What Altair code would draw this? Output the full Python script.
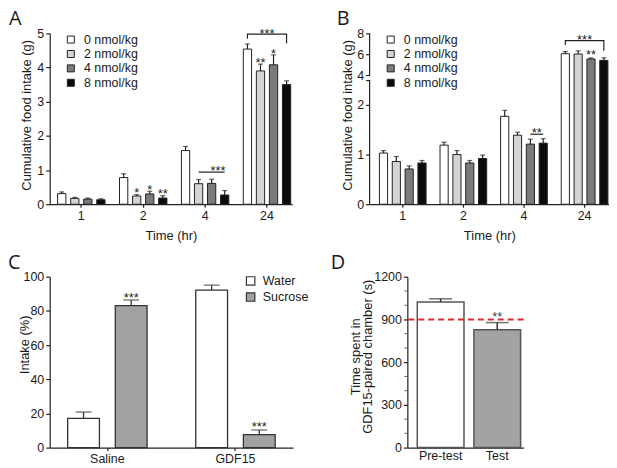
import altair as alt
import pandas as pd

FONT = "Liberation Sans"
INK = "#1a1a1a"

# ---------------- data ----------------
GROUPS = ["1", "2", "4", "24"]
DOSES = ["0 nmol/kg", "2 nmol/kg", "4 nmol/kg", "8 nmol/kg"]
DOSE_COLORS = ["#ffffff", "#d4d4d4", "#7b7b7b", "#0b0b0b"]

# Panel A (g)
A_MEAN_0 = [0.31, 0.78, 1.57, 4.54]
A_MEAN_2 = [0.17, 0.24, 0.60, 3.90]
A_MEAN_4 = [0.15, 0.30, 0.61, 4.08]
A_MEAN_8 = [0.13, 0.18, 0.27, 3.50]
A_ERR_0 = [0.05, 0.11, 0.12, 0.15]
A_ERR_2 = [0.03, 0.04, 0.12, 0.20]
A_ERR_4 = [0.03, 0.08, 0.12, 0.29]
A_ERR_8 = [0.03, 0.07, 0.13, 0.11]
A_SIG_GROUP = ["2", "2", "2", "24", "24"]
A_SIG_DOSE = ["2 nmol/kg", "4 nmol/kg", "8 nmol/kg", "2 nmol/kg", "4 nmol/kg"]
A_SIG_Y = [0.41, 0.50, 0.39, 4.22, 4.49]
A_SIG_TEXT = ["*", "*", "**", "**", "*"]
A_BR_ID = [1, 1, 2, 2, 2, 2]
A_BR_GROUP = ["4", "4", "24", "24", "24", "24"]
A_BR_DOSE = ["2 nmol/kg", "8 nmol/kg", "0 nmol/kg", "0 nmol/kg", "8 nmol/kg", "8 nmol/kg"]
A_BR_Y = [0.94, 0.94, 4.84, 4.98, 4.98, 4.71]
A_BRSTAR_GROUP = ["4", "24"]
A_BRSTAR_DOSE = ["4 nmol/kg", "2 nmol/kg"]
A_BRSTAR_Y = [1.07, 5.08]
A_BRSTAR_TEXT = ["***", "***"]
A_TICKS = [0, 1, 2, 3, 4, 5]

# Panel B (g)
B_MEAN_0 = [1.03, 1.19, 1.77, 6.05]
B_MEAN_2 = [0.86, 1.00, 1.39, 6.02]
B_MEAN_4 = [0.71, 0.83, 1.21, 5.54]
B_MEAN_8 = [0.83, 0.92, 1.23, 5.41]
B_ERR_0 = [0.05, 0.06, 0.12, 0.20]
B_ERR_2 = [0.10, 0.08, 0.06, 0.30]
B_ERR_4 = [0.06, 0.05, 0.10, 0.10]
B_ERR_8 = [0.05, 0.07, 0.09, 0.25]
B_SIG_GROUP = ["24"]
B_SIG_DOSE = ["4 nmol/kg"]
B_SIG_Y = [6.24]
B_SIG_TEXT = ["**"]
B_BR_ID = [1, 1, 2, 2, 2, 2]
B_BR_GROUP = ["4", "4", "24", "24", "24", "24"]
B_BR_DOSE = ["4 nmol/kg", "8 nmol/kg", "0 nmol/kg", "0 nmol/kg", "8 nmol/kg", "8 nmol/kg"]
B_BR_Y = [1.41, 1.41, 6.88, 7.30, 7.30, 6.34]
B_BRSTAR_GROUP = ["4", "24"]
B_BRSTAR_DOSE = ["4 nmol/kg", "2 nmol/kg"]
B_BRSTAR_Y = [1.50, 7.68]
B_BRSTAR_TEXT = ["**", "***"]
B_AXIS_LO = [0, 4]
B_AXIS_HI = [2.5, 8]
B_TICKS = [0, 1, 2, 2.5, 4, 6, 8]

# Panel C (%)
C_TREAT = ["Saline", "GDF15"]
C_DRINK = ["Water", "Sucrose"]
C_COLORS = ["#ffffff", "#a2a2a5"]
C_WATER = [17.1, 92.2]
C_WATER_ERR = [3.7, 2.9]
C_SUCROSE = [83.1, 7.6]
C_SUCROSE_ERR = [3.3, 2.7]
C_SIG_TREAT = ["Saline", "GDF15"]
C_SIG_Y = [89.3, 13.6]
C_SIG_TEXT = ["***", "***"]
C_TICKS = [0, 20, 40, 60, 80, 100]

# Panel D (s)
D_PHASE = ["Pre-test", "Test"]
D_COLORS = ["#ffffff", "#a3a3a6"]
D_MEAN = [1022, 827]
D_ERR = [23, 51]
D_SIG_PHASE = ["Test"]
D_SIG_Y = [935]
D_SIG_TEXT = ["**"]
D_CHANCE = [900]
D_MAJOR = [0, 300, 600, 900, 1200]
D_MINOR = [100, 200, 400, 500, 700, 800, 1000, 1100]


# ---------------- helpers ----------------
def long_table(means, errs):
    rows = []
    for dose, m_list, e_list in zip(DOSES, means, errs):
        for g, m, e in zip(GROUPS, m_list, e_list):
            rows.append({"group": g, "dose": dose, "mean": m, "top": m + e})
    return pd.DataFrame(rows)


def letter(text, dx):
    return alt.TitleParams(text=text, anchor="start", frame="group", dx=dx,
                           fontSize=20, font="Open Sans", fontWeight="normal",
                           color=INK, offset=-2)


def dose_panel(df, sig, br, brstar, yscale, yaxis, xscale, legend_x, extra=None):
    x = alt.X("group:N", sort=GROUPS, scale=xscale,
              axis=alt.Axis(title="Time (hr)", labelAngle=0, tickSize=3,
                            titlePadding=8))
    xo = alt.XOffset("dose:N", sort=DOSES,
                     scale=alt.Scale(domain=DOSES, paddingInner=0.365, paddingOuter=0))
    bars = alt.Chart(df).mark_bar(stroke="#222", strokeWidth=1).encode(
        x=x, xOffset=xo,
        y=alt.Y("mean:Q", scale=yscale, axis=yaxis),
        color=alt.Color("dose:N", sort=DOSES,
                        scale=alt.Scale(domain=DOSES, range=DOSE_COLORS),
                        legend=alt.Legend(title=None, orient="none", legendX=legend_x,
                                          legendY=0, symbolType="square",
                                          symbolSize=50, symbolStrokeColor="#222",
                                          symbolStrokeWidth=1, labelFontSize=12.5,
                                          labelFont=FONT, labelColor=INK,
                                          rowPadding=1.5, labelOffset=7)),
    )
    err = alt.Chart(df).mark_rule(color="#222", strokeWidth=1.2).encode(
        x=x, xOffset=xo, y=alt.Y("mean:Q", scale=yscale), y2="top:Q")
    cap = alt.Chart(df).mark_tick(color="#222", thickness=1.2, size=5,
                                  orient="horizontal").encode(
        x=x, xOffset=xo, y=alt.Y("top:Q", scale=yscale))
    stars = alt.Chart(sig).mark_text(fontSize=13, font=FONT, color=INK,
                                     baseline="middle", dy=3).encode(
        x=x, xOffset=xo, y=alt.Y("y:Q", scale=yscale), text="text:N")
    brackets = alt.Chart(br).mark_line(color="#222", strokeWidth=1.2).encode(
        x=x, xOffset=xo, y=alt.Y("y:Q", scale=yscale), detail="id:N", order="idx:Q")
    brstars = alt.Chart(brstar).mark_text(fontSize=13, font=FONT, color=INK,
                                          baseline="middle", dy=3, dx=6.5).encode(
        x=x, xOffset=xo, y=alt.Y("y:Q", scale=yscale), text="text:N")
    layers = [bars, err, cap, stars, brackets, brstars]
    if extra is not None:
        layers.append(extra)
    return alt.layer(*layers)


# ---------------- panel A ----------------
dfA = long_table([A_MEAN_0, A_MEAN_2, A_MEAN_4, A_MEAN_8],
                 [A_ERR_0, A_ERR_2, A_ERR_4, A_ERR_8])
sigA = pd.DataFrame({"group": A_SIG_GROUP, "dose": A_SIG_DOSE, "y": A_SIG_Y, "text": A_SIG_TEXT})
brA = pd.DataFrame({"id": A_BR_ID, "group": A_BR_GROUP, "dose": A_BR_DOSE, "y": A_BR_Y,
                    "idx": list(range(len(A_BR_Y)))})
bsA = pd.DataFrame({"group": A_BRSTAR_GROUP, "dose": A_BRSTAR_DOSE, "y": A_BRSTAR_Y,
                    "text": A_BRSTAR_TEXT})
yscaleA = alt.Scale(domain=[0, 5], nice=False, zero=True)
yaxisA = alt.Axis(title="Cumulative food intake (g)", values=A_TICKS, tickCount=20,
                  format="d", titlePadding=3, labelOverlap=False, titleY=82)
xscaleA = alt.Scale(domain=GROUPS, paddingInner=0.234, paddingOuter=0.075, align=0.85)
panelA = dose_panel(dfA, sigA, brA, bsA, yscaleA, yaxisA, xscaleA, 15).properties(
    width=244, height=172, title=letter("A", -41))

# ---------------- panel B (broken axis) ----------------
dfB = long_table([B_MEAN_0, B_MEAN_2, B_MEAN_4, B_MEAN_8],
                 [B_ERR_0, B_ERR_2, B_ERR_4, B_ERR_8])
sigB = pd.DataFrame({"group": B_SIG_GROUP, "dose": B_SIG_DOSE, "y": B_SIG_Y, "text": B_SIG_TEXT})
brB = pd.DataFrame({"id": B_BR_ID, "group": B_BR_GROUP, "dose": B_BR_DOSE, "y": B_BR_Y,
                    "idx": list(range(len(B_BR_Y)))})
bsB = pd.DataFrame({"group": B_BRSTAR_GROUP, "dose": B_BRSTAR_DOSE, "y": B_BRSTAR_Y,
                    "text": B_BRSTAR_TEXT})
yscaleB = alt.Scale(domain=[0, 2.5, 4, 8], range=[172, 47, 42, 0], nice=False, zero=False)
yaxisB = alt.Axis(title="Cumulative food intake (g)", values=B_TICKS, tickCount=20,
                  format="d", domain=False, titlePadding=2, labelOverlap=False, titleY=82,
                  labelExpr="datum.value == 2.5 ? '' : datum.label")
xscaleB = alt.Scale(domain=GROUPS, paddingInner=0.23, paddingOuter=0.09, align=0.9)
axisSegB = alt.Chart(pd.DataFrame({"lo": B_AXIS_LO, "hi": B_AXIS_HI})).mark_rule(
    color="#222", strokeWidth=1.2).encode(
    x=alt.value(0), y=alt.Y("lo:Q", scale=yscaleB), y2="hi:Q")
panelB = dose_panel(dfB, sigB, brB, bsB, yscaleB, yaxisB, xscaleB, 15,
                    extra=axisSegB).properties(
    width=241, height=172, title=letter("B", -33))

# ---------------- panel C ----------------
rowsC = []
for drink, means, errs in [("Water", C_WATER, C_WATER_ERR), ("Sucrose", C_SUCROSE, C_SUCROSE_ERR)]:
    for t, m, e in zip(C_TREAT, means, errs):
        rowsC.append({"treat": t, "drink": drink, "mean": m, "top": m + e})
dfC = pd.DataFrame(rowsC)
sigC = pd.DataFrame({"treat": C_SIG_TREAT, "drink": ["Sucrose"] * len(C_SIG_Y),
                     "y": C_SIG_Y, "text": C_SIG_TEXT})
xC = alt.X("treat:N", sort=C_TREAT,
           scale=alt.Scale(domain=C_TREAT, paddingInner=0.38, paddingOuter=0.14),
           axis=alt.Axis(title=None, labelAngle=0, tickSize=3))
xoC = alt.XOffset("drink:N", sort=C_DRINK,
                  scale=alt.Scale(domain=C_DRINK, paddingInner=0.333, paddingOuter=0))
yscaleC = alt.Scale(domain=[0, 100], nice=False)
barsC = alt.Chart(dfC).mark_bar(stroke="#333", strokeWidth=1.3).encode(
    x=xC, xOffset=xoC,
    y=alt.Y("mean:Q", scale=yscaleC,
            axis=alt.Axis(title="Intake (%)", values=C_TICKS, tickCount=20, format="d",
                          titleX=-18, titleY=68, labelOverlap=False)),
    color=alt.Color("drink:N", sort=C_DRINK,
                    scale=alt.Scale(domain=C_DRINK, range=C_COLORS),
                    legend=alt.Legend(title=None, orient="none", legendX=196, legendY=-2,
                                      symbolType="square", symbolSize=72,
                                      symbolStrokeColor="#333", symbolStrokeWidth=1.2,
                                      labelFontSize=12.5, labelFont=FONT, labelColor=INK,
                                      rowPadding=2.2, labelOffset=6)))
errC = alt.Chart(dfC).mark_rule(color="#333", strokeWidth=1.3).encode(
    x=xC, xOffset=xoC, y=alt.Y("mean:Q", scale=yscaleC), y2="top:Q")
capC = alt.Chart(dfC).mark_tick(color="#333", thickness=1.3, size=16,
                                orient="horizontal").encode(
    x=xC, xOffset=xoC, y=alt.Y("top:Q", scale=yscaleC))
starsC = alt.Chart(sigC).mark_text(fontSize=13, font=FONT, color=INK,
                                   baseline="middle", dy=3).encode(
    x=xC, xOffset=xoC, y=alt.Y("y:Q", scale=yscaleC), text="text:N")
panelC = alt.layer(barsC, errC, capC, starsC).properties(
    width=245, height=172, title=letter("C", -42))

# ---------------- panel D ----------------
dfD = pd.DataFrame({"phase": D_PHASE, "mean": D_MEAN,
                    "top": [m + e for m, e in zip(D_MEAN, D_ERR)]})
sigD = pd.DataFrame({"phase": D_SIG_PHASE, "y": D_SIG_Y, "text": D_SIG_TEXT})
xD = alt.X("phase:N", sort=D_PHASE,
           scale=alt.Scale(domain=D_PHASE, paddingInner=0.175, paddingOuter=0.114, align=0.77),
           axis=alt.Axis(title=None, labelAngle=0, ticks=False))
yscaleD = alt.Scale(domain=[0, 1200], nice=False)
barsD = alt.Chart(dfD).mark_bar(stroke="#555", strokeWidth=1.5).encode(
    x=xD,
    y=alt.Y("mean:Q", scale=yscaleD,
            axis=alt.Axis(title=["Time spent in", "GDF15-paired chamber (s)"],
                          values=D_MAJOR, tickCount=20, format="d", titleX=-45,
                          titleLineHeight=11.5, titleY=80, labelOverlap=False)),
    color=alt.Color("phase:N", sort=D_PHASE,
                    scale=alt.Scale(domain=D_PHASE, range=D_COLORS), legend=None))
errD = alt.Chart(dfD).mark_rule(color="#333", strokeWidth=1.5).encode(
    x=xD, y=alt.Y("mean:Q", scale=yscaleD), y2="top:Q")
capD = alt.Chart(dfD).mark_tick(color="#333", thickness=1.5, size=23,
                                orient="horizontal").encode(
    x=xD, y=alt.Y("top:Q", scale=yscaleD))
starsD = alt.Chart(sigD).mark_text(fontSize=13, font=FONT, color="#444",
                                   baseline="middle", dy=3).encode(
    x=xD, y=alt.Y("y:Q", scale=yscaleD), text="text:N")
chanceD = alt.Chart(pd.DataFrame({"y": D_CHANCE})).mark_rule(
    color="#e3262b", strokeWidth=2, strokeDash=[6, 4]).encode(
    y=alt.Y("y:Q", scale=yscaleD))
minorD = alt.Chart(pd.DataFrame({"v": D_MINOR})).mark_tick(
    color="#222", thickness=1, size=3, orient="horizontal").encode(
    x=alt.value(-1.5), y=alt.Y("v:Q", scale=yscaleD))
panelD = alt.layer(barsD, errD, capD, chanceD, starsD, minorD).properties(
    width=117, height=172, title=letter("D", -77))

# ---------------- layout ----------------
row1 = alt.hconcat(panelA, panelB, spacing=78, bounds="flush").resolve_scale(
    color="independent", xOffset="independent")
row2 = alt.hconcat(panelC, panelD, spacing=115, bounds="flush").resolve_scale(
    color="independent", xOffset="independent")
chart = alt.vconcat(row1, row2, spacing=10).resolve_scale(
    color="independent", xOffset="independent").properties(
    padding={"left": 0, "top": 0, "right": 0, "bottom": 0}
).configure_view(stroke=None).configure_axis(
    labelFont=FONT, titleFont=FONT, labelFontSize=12.5, titleFontSize=13,
    titleFontWeight="normal", labelColor=INK, titleColor=INK,
    domainColor="#222", tickColor="#222", domainWidth=1.2, tickWidth=1.2,
    tickSize=4, grid=False, labelPadding=2, labelOverlap=False
).configure_text(font=FONT)

chart.save("out.html", embed_options={"renderer": "svg", "actions": False})
